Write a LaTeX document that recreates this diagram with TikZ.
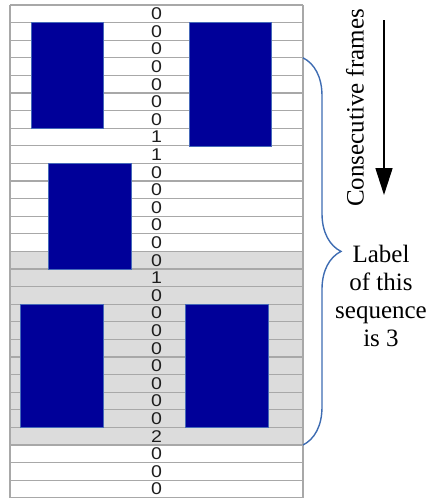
\documentclass[tikz,border=0pt]{standalone}
\usepackage{fontspec}
\usepackage{graphicx}
\setmainfont{Liberation Serif}
\newfontfamily\digitfont{Liberation Sans}
\usetikzlibrary{arrows.meta,decorations.pathreplacing}

\definecolor{gridline}{RGB}{168,168,168}
\definecolor{shaded}{RGB}{220,220,220}
\definecolor{boxblue}{RGB}{0,0,153}
\definecolor{boxedge}{RGB}{70,105,185}
\definecolor{bracecol}{RGB}{62,108,178}
\definecolor{digitcol}{RGB}{30,30,30}

\newcommand{\framedigit}[1]{\scalebox{1.15}[1]{#1}}

\tikzset{
  framerow/.style={minimum width=293pt, minimum height=17.6pt,
    inner sep=0pt, outer sep=0pt,
    font=\digitfont\fontsize{17}{17}\selectfont, text=digitcol},
  plainrow/.style={framerow, fill=white},
  greyrow/.style={framerow, fill=shaded},
  gridrule/.style={draw=gridline, line width=1.3pt},
  blob/.style={fill=boxblue, draw=boxedge, line width=0.7pt},
  bigtext/.style={font=\fontsize{25}{28}\selectfont, inner sep=0pt}
}

\begin{document}
\begin{tikzpicture}[x=1pt, y=-1pt]
\useasboundingbox (0,0) rectangle (429,499);

% table of frame labels, one row per frame
\foreach \v [count=\i] in {0,0,0,0,0,0,0,1,1,0,0,0,0,0,0,1,0,0,0,0,0,0,0,0,2,0,0,0} {
  \pgfmathsetmacro{\yc}{5+(\i-0.5)*17.6}
  \ifnum\i<15
    \node[plainrow] (r\i) at (156.5,\yc) {\framedigit{\v}};
  \else\ifnum\i>25
    \node[plainrow] (r\i) at (156.5,\yc) {\framedigit{\v}};
  \else
    \node[greyrow] (r\i) at (156.5,\yc) {\framedigit{\v}};
  \fi\fi
}

% row separators and outer frame
\foreach \i in {1,...,28} {
  \draw[gridrule] (r\i.north west) -- (r\i.north east);
}
\draw[gridrule] (r28.south west) -- (r28.south east);
\draw[gridrule] (r1.north west) -- (r28.south west);
\draw[gridrule] (r1.north east) -- (r28.south east);

% dark blocks spanning several frames
\filldraw[blob] (31.7,22.6) rectangle (103.3,128.6);
\filldraw[blob] (189,22.6) rectangle (271.7,146.2);
\filldraw[blob] (48.3,163.4) rectangle (131.7,269);
\filldraw[blob] (20.7,304.2) rectangle (103.3,427.4);
\filldraw[blob] (185,304.2) rectangle (268.3,427.4);

% brace around the sequence
\draw[bracecol, line width=1.4pt, decorate,
      decoration={brace, amplitude=38pt}]
  (r4.north east) -- (r25.south east);

% direction of time
\node[bigtext, rotate=90] (cons) at (355,108) {Consecutive frames};
\coordinate (atop) at (384,20);
\coordinate (abot) at (384,195);
\draw[line width=1.6pt, -{Triangle[length=27pt,width=17pt]}] (atop) -- (abot);

% sequence label
\node[bigtext, align=center] (lbl) at (381,296) {Label\\of this\\sequence\\is 3};
\end{tikzpicture}
\end{document}
